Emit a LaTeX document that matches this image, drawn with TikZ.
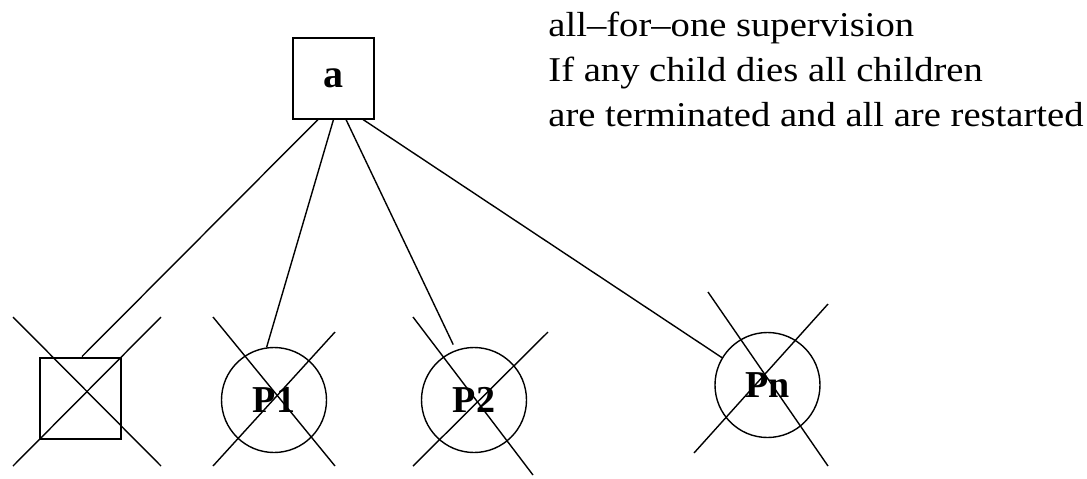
\documentclass[tikz,border=0pt]{standalone}
\usepackage{fontspec}
\setmainfont{Liberation Serif}
\newfontfamily\notefont[FakeStretch=1.11,Ligatures=TeX]{Liberation Serif}
\usepackage{tikz}
\usetikzlibrary{positioning}
\tikzset{procbox/.style={draw,rectangle,line width=1pt,minimum size=40.5pt,inner sep=0,font=\bfseries\fontsize{20}{24}\selectfont},
    proccircle/.style={draw,circle,line width=0.7pt,minimum size=52.5pt,inner sep=0,font=\bfseries\fontsize{19}{23}\selectfont},
    link/.style={line width=0.7pt},
    notetext/.style={anchor=base west,inner sep=0,font=\notefont\fontsize{17.4}{22.5}\selectfont}
}
\newcommand{\crossout}[5]
{
% args: (node, upper left, lower right, lower left, upper right)
    \draw [link] ([shift={#2}]#1.center) -- ([shift={#3}]#1.center);
    \draw [link] ([shift={#4}]#1.center) -- ([shift={#5}]#1.center);
}
\begin{document}
\begin{tikzpicture}[x=0.5pt,y=-0.5pt]

\useasboundingbox (0,0) rectangle (1087,478);

% supervisor

\node (a) at (333.5,78) [procbox] {a};

\node (note1) at (548,36) [notetext] {all\textendash for\textendash one supervision};
\node (note2) at ([yshift=-22.5pt]note1.base west) [notetext] {If any child dies all children};
\node (note3) at ([yshift=-22.5pt]note2.base west) [notetext] {are terminated and all are restarted};

% children

\node (sq) at (80,398) [procbox] {};
\node (P1) at (274,400) [proccircle] {P1};
\node (P2) at (474,400) [proccircle] {P2};
\node (Pn) at (767.5,385) [proccircle] {Pn};

\draw [link] ([xshift=-7.75pt]a.south) -- ([xshift=1pt]sq.north);
\draw [link] (a.south) -- (P1.98);
\draw [link,shorten >=3pt] ([xshift=6.25pt]a.south) -- (P2.110);
\draw [link] ([xshift=14.75pt]a.south) -- (Pn.149);

% all killed

\crossout{sq}{(-67,-81)}{(81,68)}{(-67,68)}{(81,-81)}
\crossout{P1}{(-61,-83)}{(61,66)}{(-61,66)}{(61,-68)}
\crossout{P2}{(-61,-83)}{(59,75)}{(-61,66)}{(74,-68)}
\crossout{Pn}{(-59.5,-93)}{(60.5,81)}{(-73.5,68)}{(60.5,-81)}

\end{tikzpicture}
\end{document}
